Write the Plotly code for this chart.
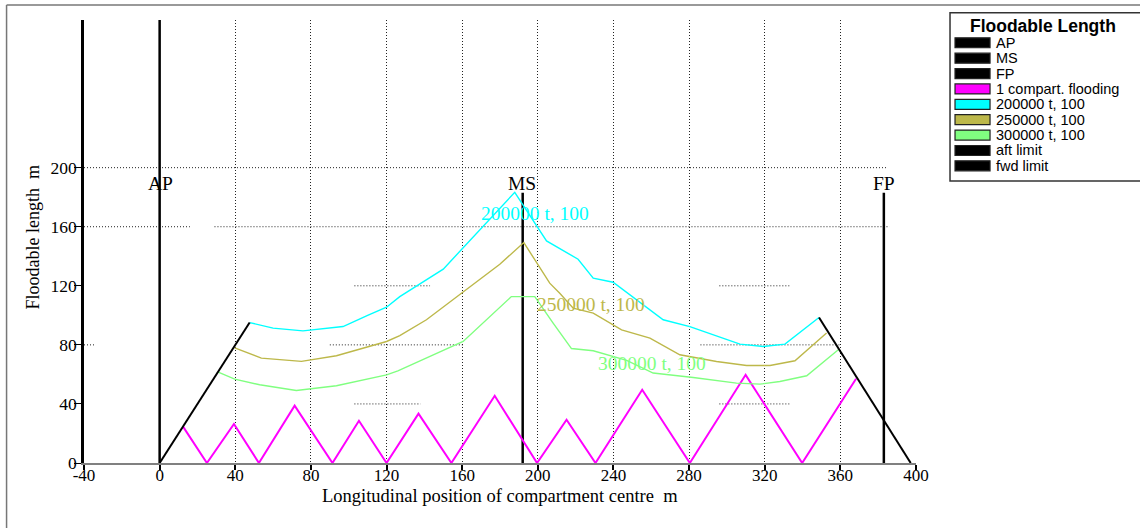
import plotly.graph_objects as go

# ---------------- data ----------------
x_ticks = [-40, 0, 40, 80, 120, 160, 200, 240, 280, 320, 360, 400]
y_ticks = [0, 40, 80, 120, 160, 200]

ap_x = [0, 0]
ap_y = [0, 300]
ms_x = [192, 192]
ms_y = [0, 183]
fp_x = [383, 383]
fp_y = [0, 183]

flood_x = [12.3, 25, 39.3, 52.5, 71.4, 91.4, 105.4, 120, 136.9, 154.3, 177.2, 199.6,
           215.2, 230.5, 255.2, 280.4, 309.9, 339.8, 368.3]
flood_y = [24.8, 0, 26.4, 0, 38.8, 0, 28.6, 0, 33.4, 0, 45.5, 0,
           29.3, 0, 49.6, 0, 59.7, 0, 57.0]

t200_x = [47.6, 60, 75.8, 97, 110, 120, 127, 150, 187.8, 204.6, 221.3, 229.3, 239.8,
          266.3, 280.4, 306.9, 319.2, 330.7, 348.7]
t200_y = [95.1, 91.3, 89.5, 92.4, 100, 105.5, 112.7, 131.3, 183.3, 150.4, 138, 125.2, 122.4,
          97, 92.4, 80.5, 78.9, 80.5, 98.5]

t250_x = [39.7, 53.8, 75, 93.5, 120, 127, 141.1, 160.5, 179.9, 192.6, 206.3, 211.6, 218.7,
          229.3, 244.3, 259.3, 275.1, 294.5, 310.4, 322.8, 336, 352.7]
t250_y = [78, 71, 68.8, 72.6, 82.3, 86.3, 97, 116.1, 134.6, 149.3, 121.8, 115, 104.9,
          101.5, 90.2, 84.6, 73.3, 68.7, 66, 66, 69.2, 88]

t300_x = [31, 39.7, 52.9, 72.3, 93.5, 120, 126, 160.5, 186, 198.4, 208.1, 217.8, 229.3,
          247, 261, 282.2, 305.1, 317.5, 328, 342.2, 358.9]
t300_y = [61.5, 56.8, 53, 49.1, 52.3, 59.7, 62.4, 82.3, 112.7, 112.7, 94.7, 77.5, 76,
          69.5, 60.9, 57.9, 54.1, 53.4, 55.2, 59.1, 76.7]

aft_x = [0, 47.6]
aft_y = [0, 95.1]
fwd_x = [348.7, 397.2]
fwd_y = [98.5, 0]

series_names = ["AP", "MS", "FP", "1 compart. flooding", "200000 t, 100",
                "250000 t, 100", "300000 t, 100", "aft limit", "fwd limit"]
series_colors = ["#000000", "#000000", "#000000", "#FF00FF", "#00FFFF",
                 "#BDB84A", "#80FF80", "#000000", "#000000"]

curve_labels = ["200000 t, 100", "250000 t, 100", "300000 t, 100"]
curve_label_x = [198.4, 228, 260.2]
curve_label_y = [169.3, 107.1, 67.7]

mark_labels = ["AP", "MS", "FP"]
mark_label_x = [0.5, 191.8, 383]
mark_label_y = [189.6, 189.6, 189.6]

# ---------------- layout geometry ----------------
W, H = 1140, 528
ML, MR, MT, MB = 84.4, 224, 19.9, 64.7
PW = W - ML - MR
PH = H - MT - MB


def pxx(p):
    return (p - ML) / PW


def pxy(p):
    return (H - MB - p) / PH


SERIF = "Liberation Serif, Times New Roman, serif"
SANS = "Liberation Sans, Arial, sans-serif"
DOT = "1px,2px"

fig = go.Figure()

series_xy = [(ap_x, ap_y), (ms_x, ms_y), (fp_x, fp_y), (flood_x, flood_y),
             (t200_x, t200_y), (t250_x, t250_y), (t300_x, t300_y),
             (aft_x, aft_y), (fwd_x, fwd_y)]
widths = [2.5, 2.5, 2.5, 2, 1.4, 1.4, 1.4, 2, 2]

for (xs, ys), name, col, w in zip(series_xy, series_names, series_colors, widths):
    fig.add_trace(go.Scatter(x=xs, y=ys, mode="lines", name=name,
                             line=dict(color=col, width=w), showlegend=False))

annotations = []
for t, x, y, c in zip(curve_labels, curve_label_x, curve_label_y, series_colors[4:7]):
    annotations.append(dict(x=x, y=y, xref="x", yref="y", text=t, showarrow=False,
                            xanchor="center", yanchor="middle",
                            font=dict(family=SERIF, size=19.5, color=c)))
for t, x, y in zip(mark_labels, mark_label_x, mark_label_y):
    annotations.append(dict(x=x, y=y, xref="x", yref="y", text=t, showarrow=False,
                            xanchor="center", yanchor="middle",
                            font=dict(family=SERIF, size=19.5, color="#000000")))

# axis titles
annotations.append(dict(x=0.5, y=pxy(496), xref="paper", yref="paper",
                        xanchor="center", yanchor="middle",
                        text="Longitudinal position of compartment centre\u00a0 m",
                        showarrow=False, font=dict(family=SERIF, size=18.5, color="#000")))
annotations.append(dict(x=pxx(33), y=pxy(238), xref="paper", yref="paper",
                        xanchor="center", yanchor="middle",
                        text="Floodable length\u00a0 m", textangle=-90,
                        showarrow=False, font=dict(family=SERIF, size=18, color="#000")))

shapes = []
# horizontal dotted grid segments (as rendered in the reference)
grid_segments = [(200, -40, 385), (160, -40, 16), (160, 29, 386),
                 (120, 103, 143), (120, 296, 333),
                 (80, -40, -34.5), (80, 90, 161), (80, 286, 360),
                 (40, 103, 138), (40, 296, 333)]
for yv, x0, x1 in grid_segments:
    shapes.append(dict(type="line", xref="x", yref="y", x0=x0, x1=x1, y0=yv, y1=yv,
                       line=dict(color="#222", width=1, dash=DOT), layer="below"))

# outer frame
shapes.append(dict(type="line", xref="paper", yref="paper", x0=pxx(7), x1=pxx(1141),
                   y0=pxy(5), y1=pxy(5), line=dict(color="#777", width=1.5)))
shapes.append(dict(type="line", xref="paper", yref="paper", x0=pxx(7), x1=pxx(7),
                   y0=pxy(5), y1=pxy(529), line=dict(color="#777", width=1.5)))

# legend box
shapes.append(dict(type="rect", xref="paper", yref="paper", x0=pxx(950), x1=pxx(1145),
                   y0=pxy(181), y1=pxy(12.7), line=dict(color="#333", width=1.5),
                   fillcolor="white"))
annotations.append(dict(x=pxx(1043), y=pxy(26), xref="paper", yref="paper",
                        xanchor="center", yanchor="middle",
                        text="<b>Floodable Length</b>", showarrow=False,
                        font=dict(family=SANS, size=17.5, color="#000")))
item_y0, item_dy = 42.7, 15.4
for i, (name, col) in enumerate(zip(series_names, series_colors)):
    yc = item_y0 + i * item_dy
    shapes.append(dict(type="rect", xref="paper", yref="paper", x0=pxx(955), x1=pxx(990),
                       y0=pxy(yc + 5), y1=pxy(yc - 5), fillcolor=col,
                       line=dict(color="#222", width=1.2)))
    annotations.append(dict(x=pxx(993.5), y=pxy(yc), xref="paper", yref="paper",
                            text=name, showarrow=False, xanchor="left", yanchor="middle",
                            font=dict(family=SANS, size=14.5, color="#000")))

fig.update_layout(
    width=W, height=H,
    margin=dict(l=ML, r=MR, t=MT, b=MB, pad=0),
    paper_bgcolor="white", plot_bgcolor="white",
    showlegend=False,
    annotations=annotations, shapes=shapes,
    xaxis=dict(range=[-40, 400], tickvals=x_ticks, ticktext=[str(v) for v in x_ticks],
               showgrid=True, gridcolor="#222", gridwidth=1, griddash=DOT,
               zeroline=False, showline=True, linecolor="#808080", linewidth=1.5,
               ticks="outside", ticklen=5, tickcolor="#000", tickwidth=1.5,
               ticklabelstandoff=-9,
               tickfont=dict(family=SERIF, size=17, color="#000")),
    yaxis=dict(range=[0, 300], tickvals=y_ticks, ticktext=[str(v) for v in y_ticks],
               showgrid=False, zeroline=False, showline=True, linecolor="#000",
               linewidth=2.5, ticks="outside", ticklen=7, tickcolor="#000", tickwidth=1,
               ticklabelstandoff=-6,
               tickfont=dict(family=SERIF, size=17.5, color="#000")),
)

fig.write_html("out.html")
